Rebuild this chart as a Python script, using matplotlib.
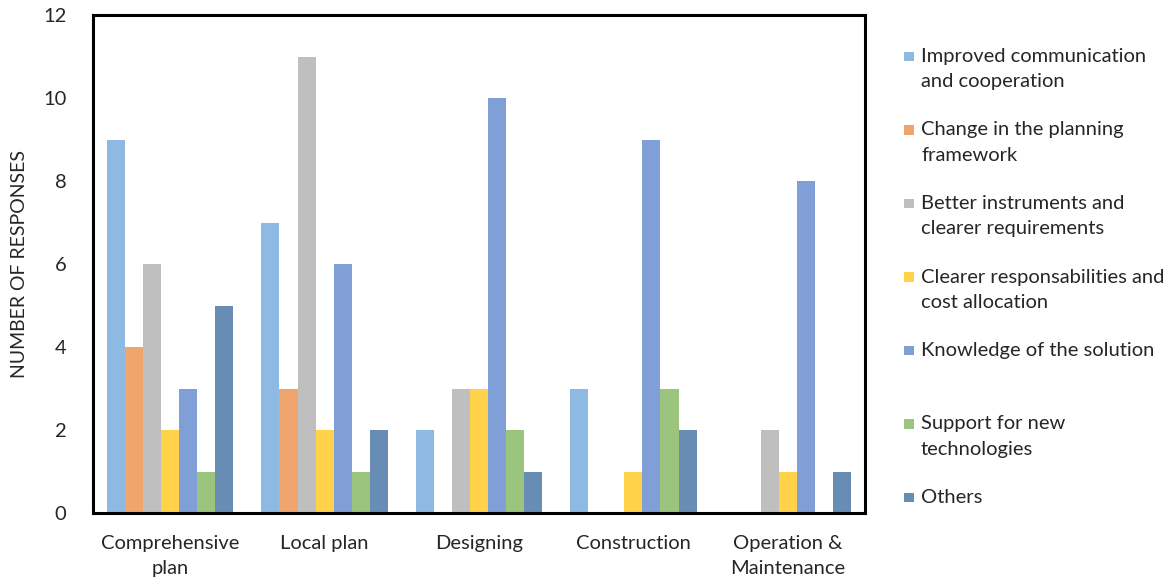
import matplotlib.pyplot as plt
import numpy as np
from matplotlib.patches import Rectangle

plt.rcParams['font.family'] = ['Lato', 'DejaVu Sans']

# data
stages = ['Comprehensive\nplan', 'Local plan', 'Designing', 'Construction', 'Operation &\nMaintenance']
series = [
    'Improved communication\nand cooperation',
    'Change in the planning\nframework',
    'Better instruments and\nclearer requirements',
    'Clearer responsabilities and\ncost allocation',
    'Knowledge of the solution',
    'Support for new\ntechnologies',
    'Others',
]
improved = [9, 7, 2, 3, 0]
change = [4, 3, 0, 0, 0]
better = [6, 11, 3, 0, 2]
clearer = [2, 2, 3, 1, 1]
knowledge = [3, 6, 10, 9, 8]
support = [1, 1, 2, 3, 0]
others = [5, 2, 1, 2, 1]
values = [improved, change, better, clearer, knowledge, support, others]

colors = ['#8DB9E2', '#F0A56E', '#BFBFBF', '#FFD24A', '#7F9FD6', '#9BC47E', '#678DB4']
txt = '#262626'

W, H = 1170, 578
fig = plt.figure(figsize=(W / 100, H / 100), dpi=100)
ax = fig.add_axes([93 / W, 1 - 513 / H, (865 - 93) / W, (513 - 15) / H])

x = np.arange(len(stages))
bw = 0.117
for i, (vals, c) in enumerate(zip(values, colors)):
    ax.bar(x + (i - 3) * bw, vals, width=bw, color=c, edgecolor='none')

ax.set_xlim(-0.5, len(stages) - 0.5)
ax.set_ylim(0, 12)
ax.set_yticks(range(0, 13, 2))
ax.set_xticks(x)
ax.set_xticklabels(stages, fontsize=14.5, linespacing=1.6)
ax.tick_params(axis='y', length=0, pad=19, labelsize=14.5, labelcolor=txt)
ax.tick_params(axis='x', length=0, pad=15.5, labelsize=14.5, labelcolor=txt)
for s in ax.spines.values():
    s.set_linewidth(2.2)
    s.set_color('black')
ax.set_ylabel('NUMBER OF RESPONSES', fontsize=14, labelpad=11, color=txt)

# manual legend on the right
for i, (lab, c) in enumerate(zip(series, colors)):
    yc = 56 + 73.5 * i
    fig.patches.append(Rectangle((904 / W, 1 - (yc + 5) / H), 9.5 / W, 9.5 / H,
                                 transform=fig.transFigure, facecolor=c, edgecolor='none'))
    fig.text(921 / W, 1 - (yc - 8) / H, lab, fontsize=14.5, va='top', ha='left',
             linespacing=1.6, color=txt)

fig.savefig('out.png', dpi=100, facecolor='white')
